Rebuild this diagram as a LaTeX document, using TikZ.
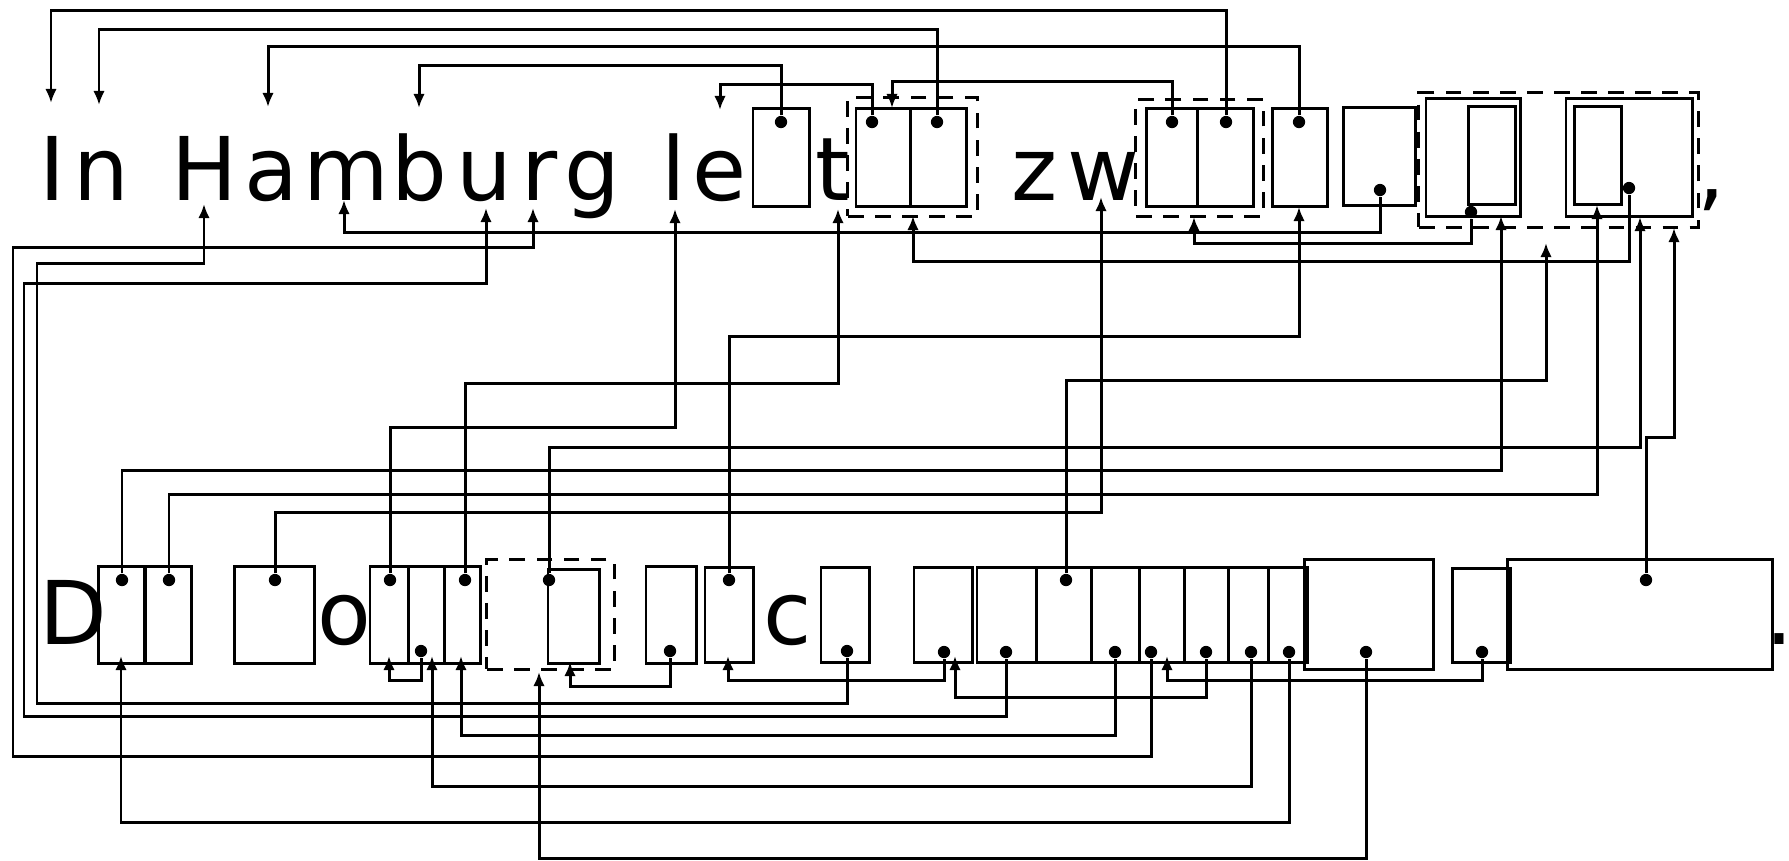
\documentclass[tikz,border=0pt]{standalone}
\usepackage{fontspec}
\setmainfont{DejaVu Sans}
\usepackage{tikz}
\usetikzlibrary{positioning,arrows.meta}
\tikzset{slot/.style 2 args={rectangle, draw=black, line width=0.85pt, inner sep=0pt, outer sep=0pt, minimum width=#1, minimum height=#2},
       cluster/.style 2 args={rectangle, draw=black, line width=0.85pt, dash pattern=on 4.5pt off 3.2pt, inner sep=0pt, outer sep=0pt, minimum width=#1, minimum height=#2},
       spot/.style={circle, fill=black, draw=none, inner sep=0pt, minimum size=3.5pt},
       ref/.style={-{Latex[length=4pt,width=3.3pt]}, line width=0.85pt},
       glyph/.style={anchor=base, inner sep=0pt, font=\fontsize{25}{30}\selectfont}}

\begin{document}
\begin{tikzpicture}[x=0.01cm, y=-0.01cm]
\useasboundingbox (0,0) rectangle (1789,860);
\node [glyph] (lI) at (52,200) {I};
\node [glyph] (ln) at (101,200) {n};
\node [glyph] (lH) at (205,200) {H};
\node [glyph] (la) at (271,200) {a};
\node [glyph] (lm) at (346,200) {m};
\node [glyph] (lb) at (419,200) {b};
\node [glyph] (lu) at (484,200) {u};
\node [glyph] (lr) at (540,200) {r};
\node [glyph] (lg) at (592,200) {g};
\node [glyph] (ll) at (674,200) {l};
\node [glyph] (le) at (720,200) {e};
\node [glyph] (lt) at (833,200) {t};
\node [glyph] (lz) at (1035,200) {z};
\node [glyph] (lw) at (1103,200) {w};
\node [glyph] (lcomma) at (1711,200) {,};
\node [glyph] (lD) at (73,644) {D};
\node [glyph] (lo) at (344,644) {o};
\node [glyph] (lc) at (788,644) {c};
\node [glyph, anchor=base west] (lstop) at (1765,644) {.};

\node [slot={5.6mm}{9.7mm}] (sE) at (781,157.5) {};
\node [slot={5.4mm}{9.7mm}] (A1) at (883,157.5) {};
\node [slot={5.6mm}{9.7mm}] (A2) at (938,157.5) {};
\node [cluster={12.9mm}{11.8mm}] (cA) at (912.5,157) {};
\node [slot={5.1mm}{9.7mm}] (B1) at (1171.5,157.5) {};
\node [slot={5.6mm}{9.7mm}] (B2) at (1225,157.5) {};
\node [cluster={12.7mm}{11.6mm}] (cB) at (1199.5,158) {};
\node [slot={5.5mm}{9.7mm}] (C) at (1299.5,157.5) {};
\node [slot={7.2mm}{9.7mm}] (D) at (1379,156.5) {};
\node [cluster={27.9mm}{13.4mm}] (cE) at (1558.5,160) {};
\node [slot={9.4mm}{11.7mm}] (Fo) at (1473,157.5) {};
\node [slot={4.7mm}{9.7mm}] (Fi) at (1491.5,155.5) {};
\node [slot={12.6mm}{11.7mm}] (Go) at (1629,157.5) {};
\node [slot={4.7mm}{9.7mm}] (Gi) at (1597.5,155.5) {};

\node [slot={4.6mm}{9.6mm}] (P1) at (122,615) {};
\node [slot={4.6mm}{9.6mm}] (P2) at (168,615) {};
\node [slot={7.9mm}{9.6mm}] (Q) at (274.5,615) {};
\node [slot={3.8mm}{9.6mm}] (T1) at (389,615) {};
\node [slot={3.6mm}{9.6mm}] (T2) at (426,615) {};
\node [slot={3.6mm}{9.6mm}] (T3) at (462,615) {};
\node [cluster={12.7mm}{10.9mm}] (cH) at (550.5,614.5) {};
\node [slot={5.1mm}{9.3mm}] (Hi) at (573.5,616.5) {};
\node [slot={5.0mm}{9.6mm}] (R) at (671,615) {};
\node [slot={4.8mm}{9.4mm}] (S) at (729,615) {};
\node [slot={4.8mm}{9.4mm}] (U) at (845,615) {};
\node [slot={5.8mm}{9.4mm}] (V) at (943,615) {};
\node [slot={5.9mm}{9.4mm}] (K1) at (1006.5,615) {};
\node [slot={5.5mm}{9.4mm}] (K2) at (1063.5,615) {};
\node [slot={4.8mm}{9.4mm}] (K3) at (1115,615) {};
\node [slot={4.5mm}{9.4mm}] (K4) at (1161.5,615) {};
\node [slot={4.4mm}{9.4mm}] (K5) at (1206,615) {};
\node [slot={4.0mm}{9.4mm}] (K6) at (1248,615) {};
\node [slot={3.9mm}{9.4mm}] (K7) at (1287.5,615) {};
\node [slot={12.8mm}{10.9mm}] (W) at (1369,614.5) {};
\node [slot={5.8mm}{9.3mm}] (X) at (1481,615.5) {};
\node [slot={26.4mm}{10.9mm}] (Y) at (1640,614.5) {};

\node [spot] (dE) at (781,122) {};
\node [spot] (dA1) at (872,122) {};
\node [spot] (dA2) at (937,122) {};
\node [spot] (dB1) at (1172,122) {};
\node [spot] (dB2) at (1226,122) {};
\node [spot] (dC) at (1299,122) {};
\node [spot] (dD) at (1380,190) {};
\node [spot] (dF) at (1471,212) {};
\node [spot] (dG) at (1629,188) {};
\node [spot] (dP1) at (122,580) {};
\node [spot] (dP2) at (169,580) {};
\node [spot] (dQ) at (275,580) {};
\node [spot] (dT1) at (390,580) {};
\node [spot] (dT2) at (421,651) {};
\node [spot] (dT3) at (465,580) {};
\node [spot] (dH) at (549,580) {};
\node [spot] (dR) at (670,651) {};
\node [spot] (dS) at (729,580) {};
\node [spot] (dU) at (847,651) {};
\node [spot] (dV) at (944,652) {};
\node [spot] (dK1) at (1006,652) {};
\node [spot] (dK2) at (1066,580) {};
\node [spot] (dK3) at (1115,652) {};
\node [spot] (dK4) at (1151,652) {};
\node [spot] (dK5) at (1206,652) {};
\node [spot] (dK6) at (1251,652) {};
\node [spot] (dK7) at (1289,652) {};
\node [spot] (dW) at (1366,652) {};
\node [spot] (dX) at (1482,652) {};
\node [spot] (dY) at (1646,580) {};

\coordinate (iI) at (51,103);
\coordinate (iN) at (99,105);
\coordinate (iA) at (268,107);
\coordinate (iB) at (419,108);
\coordinate (iE) at (720,110);
\coordinate (iA1) at (892,108);
\coordinate (iH) at (204,204);
\coordinate (iM) at (344,200);
\coordinate (iU) at (486,208);
\coordinate (iR) at (533,208);
\coordinate (iL) at (675,209);
\coordinate (iT) at (838,209);
\coordinate (iW) at (1101,197);
\coordinate (iC) at (1299,207);
\coordinate (iF) at (1501,216);
\coordinate (iX) at (1546,243);
\coordinate (iGi) at (1597,205);
\coordinate (iGo) at (1640,217);
\coordinate (iEo) at (1674,228);
\coordinate (iAb) at (913,216);
\coordinate (iBb) at (1194,217);
\coordinate (iP1) at (121,656);
\coordinate (iT1) at (389,656);
\coordinate (iT2) at (432,656);
\coordinate (iT3) at (461,656);
\coordinate (iHb) at (539,672);
\coordinate (iHi) at (570,662);
\coordinate (iS) at (728,656);
\coordinate (iV) at (955,656);
\coordinate (iK4) at (1167,656);

\draw [ref] (dB2) -- (dB2 |- 0,10) -| (iI);
\draw [ref] (dA2) -- (dA2 |- 0,29) -| (iN);
\draw [ref] (dC) -- (dC |- 0,46) -| (iA);
\draw [ref] (dE) -- (dE |- 0,65) -| (iB);
\draw [ref] (dA1) -- (dA1 |- 0,84) -| (iE);
\draw [ref] (dB1) -- (dB1 |- 0,81) -| (iA1);
\draw [ref] (dD) -- (dD |- 0,232) -| (iM);
\draw [ref] (dF) -- (dF |- 0,243) -| (iBb);
\draw [ref] (dG) -- (dG |- 0,261) -| (iAb);
\draw [ref] (dY) -- (dY |- 0,437) -| (iEo);
\draw [ref] (dP1) -- (dP1 |- 0,470) -| (iF);
\draw [ref] (dP2) -- (dP2 |- 0,494) -| (iGi);
\draw [ref] (dQ) -- (dQ |- 0,512) -| (iW);
\draw [ref] (dT1) -- (dT1 |- 0,427) -| (iL);
\draw [ref] (dT3) -- (dT3 |- 0,383) -| (iT);
\draw [ref] (dH) -- (dH |- 0,447) -| (iGo);
\draw [ref] (dS) -- (dS |- 0,336) -| (iC);
\draw [ref] (dK2) -- (dK2 |- 0,380) -| (iX);
\draw [ref] (dU) |- (37,703) |- (iH |- 0,263) -- (iH);
\draw [ref] (dK1) |- (24,716) |- (iU |- 0,283) -- (iU);
\draw [ref] (dK4) |- (13,756) |- (iR |- 0,247) -- (iR);
\draw [ref] (dK7) -- (dK7 |- 0,822) -| (iP1);
\draw [ref] (dT2) -- (dT2 |- 0,680) -| (iT1);
\draw [ref] (dK6) -- (dK6 |- 0,786) -| (iT2);
\draw [ref] (dK3) -- (dK3 |- 0,735) -| (iT3);
\draw [ref] (dW) -- (dW |- 0,858) -| (iHb);
\draw [ref] (dR) -- (dR |- 0,686) -| (iHi);
\draw [ref] (dV) -- (dV |- 0,680) -| (iS);
\draw [ref] (dK5) -- (dK5 |- 0,697) -| (iV);
\draw [ref] (dX) -- (dX |- 0,680) -| (iK4);
\end{tikzpicture}
\end{document}
